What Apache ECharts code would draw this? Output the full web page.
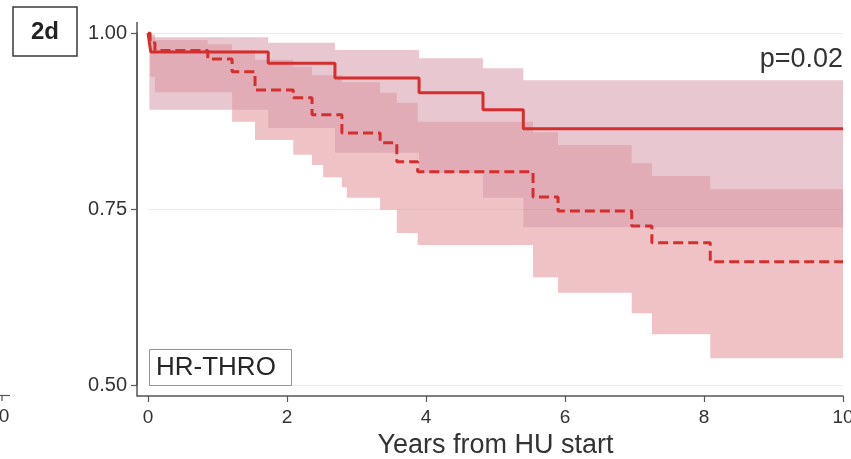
<!DOCTYPE html>
<html>
<head>
<meta charset="utf-8">
<script src="https://cdn.jsdelivr.net/npm/echarts@6.0.0/dist/echarts.min.js"></script>
<style>
html,body{margin:0;padding:0;background:#fff;}
#chart{width:851px;height:459px;}
</style>
</head>
<body>
<div id="chart"></div>
<script>
// ---- Data ----
const xTicks = [0, 2, 4, 6, 8, 10];
const yTicks = [0.50, 0.75, 1.00];

// Solid curve (Kaplan-Meier step points)
const sTimes = [0, 0.02, 0.04, 1.73, 2.69, 3.90, 4.82, 5.40, 10];
const sSurv  = [1.0, 0.986, 0.973, 0.957, 0.936, 0.915, 0.891, 0.864, 0.864];

// Dashed curve
const dTimes = [0, 0.03, 0.10, 0.86, 1.21, 1.54, 2.09, 2.36, 2.79, 3.34, 3.58, 3.88, 5.54, 5.90, 6.96, 7.25, 8.09, 10];
const dSurv  = [1.0, 0.986, 0.975, 0.963, 0.945, 0.919, 0.908, 0.884, 0.858, 0.844, 0.817, 0.803, 0.767, 0.747, 0.726, 0.702, 0.675, 0.675];

// Confidence band of solid curve (value holds from time i to time i+1)
const sBandTimes = [0.02, 1.73, 2.69, 3.90, 4.82, 5.40, 10];
const sBandUpper = [0.994, 0.986, 0.976, 0.964, 0.950, 0.933, 0.933];
const sBandLower = [0.891, 0.865, 0.830, 0.801, 0.766, 0.724, 0.724];

// Confidence band of dashed curve
const dBandTimes = [0.03, 0.10, 0.86, 1.21, 1.54, 2.09, 2.36, 2.52, 2.79, 2.86, 3.34, 3.58, 3.88, 5.54, 5.90, 6.96, 7.25, 8.09, 10];
const dBandUpper = [0.998, 0.990, 0.984, 0.976, 0.962, 0.952, 0.940, 0.940, 0.930, 0.930, 0.915, 0.901, 0.874, 0.859, 0.841, 0.815, 0.797, 0.778, 0.778];
const dBandLower = [0.938, 0.916, 0.916, 0.874, 0.848, 0.827, 0.8125, 0.795, 0.781, 0.766, 0.749, 0.716, 0.699, 0.653, 0.631, 0.602, 0.572, 0.538, 0.538];

const pText = 'p=0.02';
const groupLabel = 'HR-THRO';
const panelLabel = '2d';
const xTitle = 'Years from HU start';

// ---- Chart ----
const FONT = "'Liberation Sans', Arial, sans-serif";
const RED = '#d42e2e';
const AXIS = '#555';

function zip(a, b) { return a.map((v, i) => [v, b[i]]); }

function bandPoints(api, T, U, L) {
  const pts = [];
  for (let i = 0; i < T.length - 1; i++) {
    pts.push(api.coord([T[i], U[i]]));
    pts.push(api.coord([T[i + 1], U[i]]));
  }
  for (let i = T.length - 2; i >= 0; i--) {
    pts.push(api.coord([T[i + 1], L[i]]));
    pts.push(api.coord([T[i], L[i]]));
  }
  return pts;
}

function bandSeries(T, U, L, fill, z) {
  return {
    type: 'custom',
    silent: true,
    z: z,
    data: [[T[0], U[0]]],
    renderItem: function (params, api) {
      return {
        type: 'polygon',
        shape: { points: bandPoints(api, T, U, L) },
        style: { fill: fill }
      };
    }
  };
}

const chart = echarts.init(document.getElementById('chart'), null, { renderer: 'canvas' });

const option = {
  backgroundColor: '#ffffff',
  animation: false,
  grid: { left: 148, right: 8, top: 33, bottom: 74, containLabel: false, outerBoundsMode: 'none' },
  xAxis: {
    type: 'value',
    min: 0, max: 10, interval: 2,
    offset: 11,
    name: xTitle,
    nameLocation: 'middle',
    nameGap: 31,
    nameTextStyle: { fontFamily: FONT, fontSize: 27, color: '#333' },
    axisLine: { show: true, onZero: false, lineStyle: { color: AXIS, width: 1.5 } },
    axisTick: { show: true, length: 6, lineStyle: { color: AXIS, width: 1.2 } },
    axisLabel: { fontFamily: FONT, fontSize: 19, color: '#333', margin: 12,
      formatter: v => String(v) },
    splitLine: { show: false }
  },
  yAxis: {
    type: 'value',
    min: 0.5, max: 1.0, interval: 0.25,
    offset: 11,
    axisLine: { show: true, onZero: false, lineStyle: { color: AXIS, width: 1.5 } },
    axisTick: { show: true, length: 6, lineStyle: { color: AXIS, width: 1.2 } },
    axisLabel: { fontFamily: FONT, fontSize: 20, color: '#333', margin: 10,
      formatter: v => v.toFixed(2) },
    splitLine: { show: true, lineStyle: { color: '#ececec', width: 1 } }
  },
  series: [
    bandSeries(dBandTimes, dBandUpper, dBandLower, 'rgba(215,105,112,0.40)', 1),
    bandSeries(sBandTimes, sBandUpper, sBandLower, 'rgba(213,153,170,0.55)', 2),
    {
      type: 'line', step: 'end', z: 5, symbol: 'none', silent: true,
      data: zip(dTimes, dSurv),
      lineStyle: { color: RED, width: 3, type: [10, 5] }
    },
    {
      type: 'line', step: 'end', z: 6, symbol: 'none', silent: true,
      data: zip(sTimes, sSurv),
      lineStyle: { color: RED, width: 3 }
    }
  ],
  graphic: [
    // axis line extensions so that both axes meet at the corner (Stata style)
    { type: 'polyline', shape: { points: [[137, 22], [137, 396], [148, 396]] },
      style: { stroke: AXIS, lineWidth: 1.5, fill: null } },
    { type: 'rect', shape: { x: 13, y: 7, width: 64, height: 49 },
      style: { fill: '#fff', stroke: '#3a3a3a', lineWidth: 1.5 } },
    { type: 'text', x: 45, y: 32,
      style: { text: panelLabel, font: "bold 24px " + FONT, fill: '#222',
        align: 'center', verticalAlign: 'middle', textAlign: 'center', textVerticalAlign: 'middle' } },
    { type: 'rect', shape: { x: 149.5, y: 349.5, width: 142, height: 36 },
      style: { fill: 'rgba(255,255,255,0)', stroke: '#e07474', lineWidth: 1 }, z: 10 },
    { type: 'text', x: 156, y: 368, z: 10,
      style: { text: groupLabel, font: "26px " + FONT, fill: '#262626',
        align: 'left', verticalAlign: 'middle', textAlign: 'left', textVerticalAlign: 'middle' } },
    { type: 'text', x: 843, y: 60, z: 10,
      style: { text: pText, font: "27px " + FONT, fill: '#333',
        align: 'right', verticalAlign: 'middle', textAlign: 'right', textVerticalAlign: 'middle' } },
    // remnant of the neighbouring panel at the left edge
    { type: 'line', shape: { x1: 0, y1: 395.5, x2: 10, y2: 395.5 },
      style: { stroke: AXIS, lineWidth: 1.2 } },
    { type: 'line', shape: { x1: 2, y1: 395, x2: 2, y2: 401 },
      style: { stroke: AXIS, lineWidth: 1.2 } },
    { type: 'text', x: 4, y: 417,
      style: { text: '0', font: "19px " + FONT, fill: '#333',
        align: 'center', verticalAlign: 'middle', textAlign: 'center', textVerticalAlign: 'middle' } }
  ]
};

chart.setOption(option);
</script>
</body>
</html>
